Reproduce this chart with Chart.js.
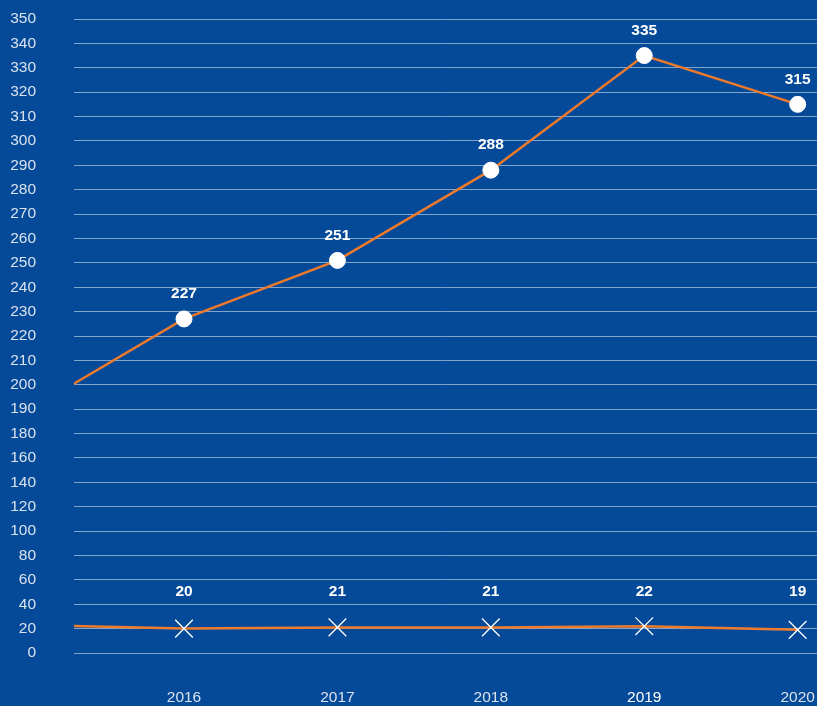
<!DOCTYPE html>
<html>
<head>
<meta charset="utf-8">
<script src="https://cdn.jsdelivr.net/npm/chart.js@4/dist/chart.umd.min.js"></script>
<style>
  html, body { margin: 0; padding: 0; background: #054a98; overflow: hidden; }
  #wrap { width: 817px; height: 706px; position: relative; }
  canvas { display: block; }
</style>
</head>
<body>
<div id="wrap"><canvas id="c" width="817" height="706"></canvas></div>
<script>
// ---- data ----
const years = [2015, 2016, 2017, 2018, 2019, 2020];       // 2015 only continues the lines off the left edge
const xTickLabels = [2016, 2017, 2018, 2019, 2020];
const seriesTop = [190, 227, 251, 288, 335, 315];
const seriesBottom = [23, 20, 21, 21, 22, 19];
const yTickLabels = [0, 20, 40, 60, 80, 100, 120, 140, 160, 180, 190, 200, 210, 220, 230, 240,
                     250, 260, 270, 280, 290, 300, 310, 320, 330, 340, 350];

// broken (piecewise) value axis: 0-180 in steps of 20, 180-350 in steps of 10, all evenly spaced
function toPos(v) { return v >= 180 ? 9 + (v - 180) / 10 : v / 20; }

const FONT = "'Liberation Sans', Helvetica, Arial, sans-serif";
const ORANGE = '#ee7a2b';

const labelPlugin = {
  id: 'valueLabels',
  afterDatasetsDraw(chart) {
    const ctx = chart.ctx;
    const ys = chart.scales.y;
    ctx.save();
    ctx.font = 'bold 15.5px ' + FONT;
    ctx.fillStyle = '#ffffff';
    ctx.textAlign = 'center';
    ctx.textBaseline = 'middle';
    const m0 = chart.getDatasetMeta(0);
    m0.data.forEach((pt, i) => {
      if (i === 0) return;
      ctx.fillText(String(seriesTop[i]), pt.x, pt.y - 25);
    });
    const m1 = chart.getDatasetMeta(1);
    const rowY = ys.getPixelForValue(toPos(50));
    m1.data.forEach((pt, i) => {
      if (i === 0) return;
      ctx.fillText(String(seriesBottom[i]), pt.x, rowY);
    });
    ctx.restore();
  }
};

function noPad(scale) {
  scale.paddingTop = 0; scale.paddingBottom = 0;
  scale.paddingLeft = 0; scale.paddingRight = 0;
}

new Chart(document.getElementById('c'), {
  type: 'line',
  data: {
    datasets: [
      {
        data: years.map((y, i) => ({ x: y, y: toPos(seriesTop[i]) })),
        borderColor: ORANGE,
        borderWidth: 2.5,
        pointStyle: 'circle',
        pointRadius: years.map((y, i) => i === 0 ? 0 : 8),
        pointBackgroundColor: '#ffffff',
        pointBorderColor: '#ffffff',
        pointBorderWidth: 1,
        tension: 0
      },
      {
        data: years.map((y, i) => ({ x: y, y: toPos(seriesBottom[i]) })),
        borderColor: ORANGE,
        borderWidth: 2.5,
        pointStyle: 'crossRot',
        pointRadius: years.map((y, i) => i === 0 ? 0 : 12.5),
        pointBackgroundColor: '#ffffff',
        pointBorderColor: '#ffffff',
        pointBorderWidth: 1.3,
        tension: 0
      }
    ]
  },
  options: {
    responsive: false,
    animation: false,
    layout: { autoPadding: false, padding: { top: 19, right: 0, bottom: 0, left: 0 } },
    plugins: { legend: { display: false }, tooltip: { enabled: false } },
    scales: {
      x: {
        type: 'linear',
        min: 2015.283,
        max: 2020.126,
        afterBuildTicks(scale) { scale.ticks = xTickLabels.map(v => ({ value: v })); },
        afterFit(scale) { scale.height = 53; noPad(scale); },
        grid: { display: false, drawTicks: false },
        border: { display: false },
        ticks: {
          padding: 35,
          autoSkip: false,
          maxRotation: 0,
          font: { family: FONT, size: 15.5 },
          color: (c) => c.tick && c.tick.value === 2019 ? '#ffffff' : '#d9e2ee',
          callback: (v) => String(v)
        }
      },
      y: {
        type: 'linear',
        min: 0,
        max: 26,
        afterBuildTicks(scale) { scale.ticks = yTickLabels.map(v => ({ value: toPos(v) })); },
        afterFit(scale) { scale.width = 74; noPad(scale); },
        grid: { color: 'rgba(255,255,255,0.5)', lineWidth: 1, drawTicks: false },
        border: { display: false },
        ticks: {
          padding: 38,
          autoSkip: false,
          font: { family: FONT, size: 15.5 },
          color: '#d9e2ee',
          callback: (v, i) => String(yTickLabels[i])
        }
      }
    }
  },
  plugins: [labelPlugin]
});
</script>
</body>
</html>
